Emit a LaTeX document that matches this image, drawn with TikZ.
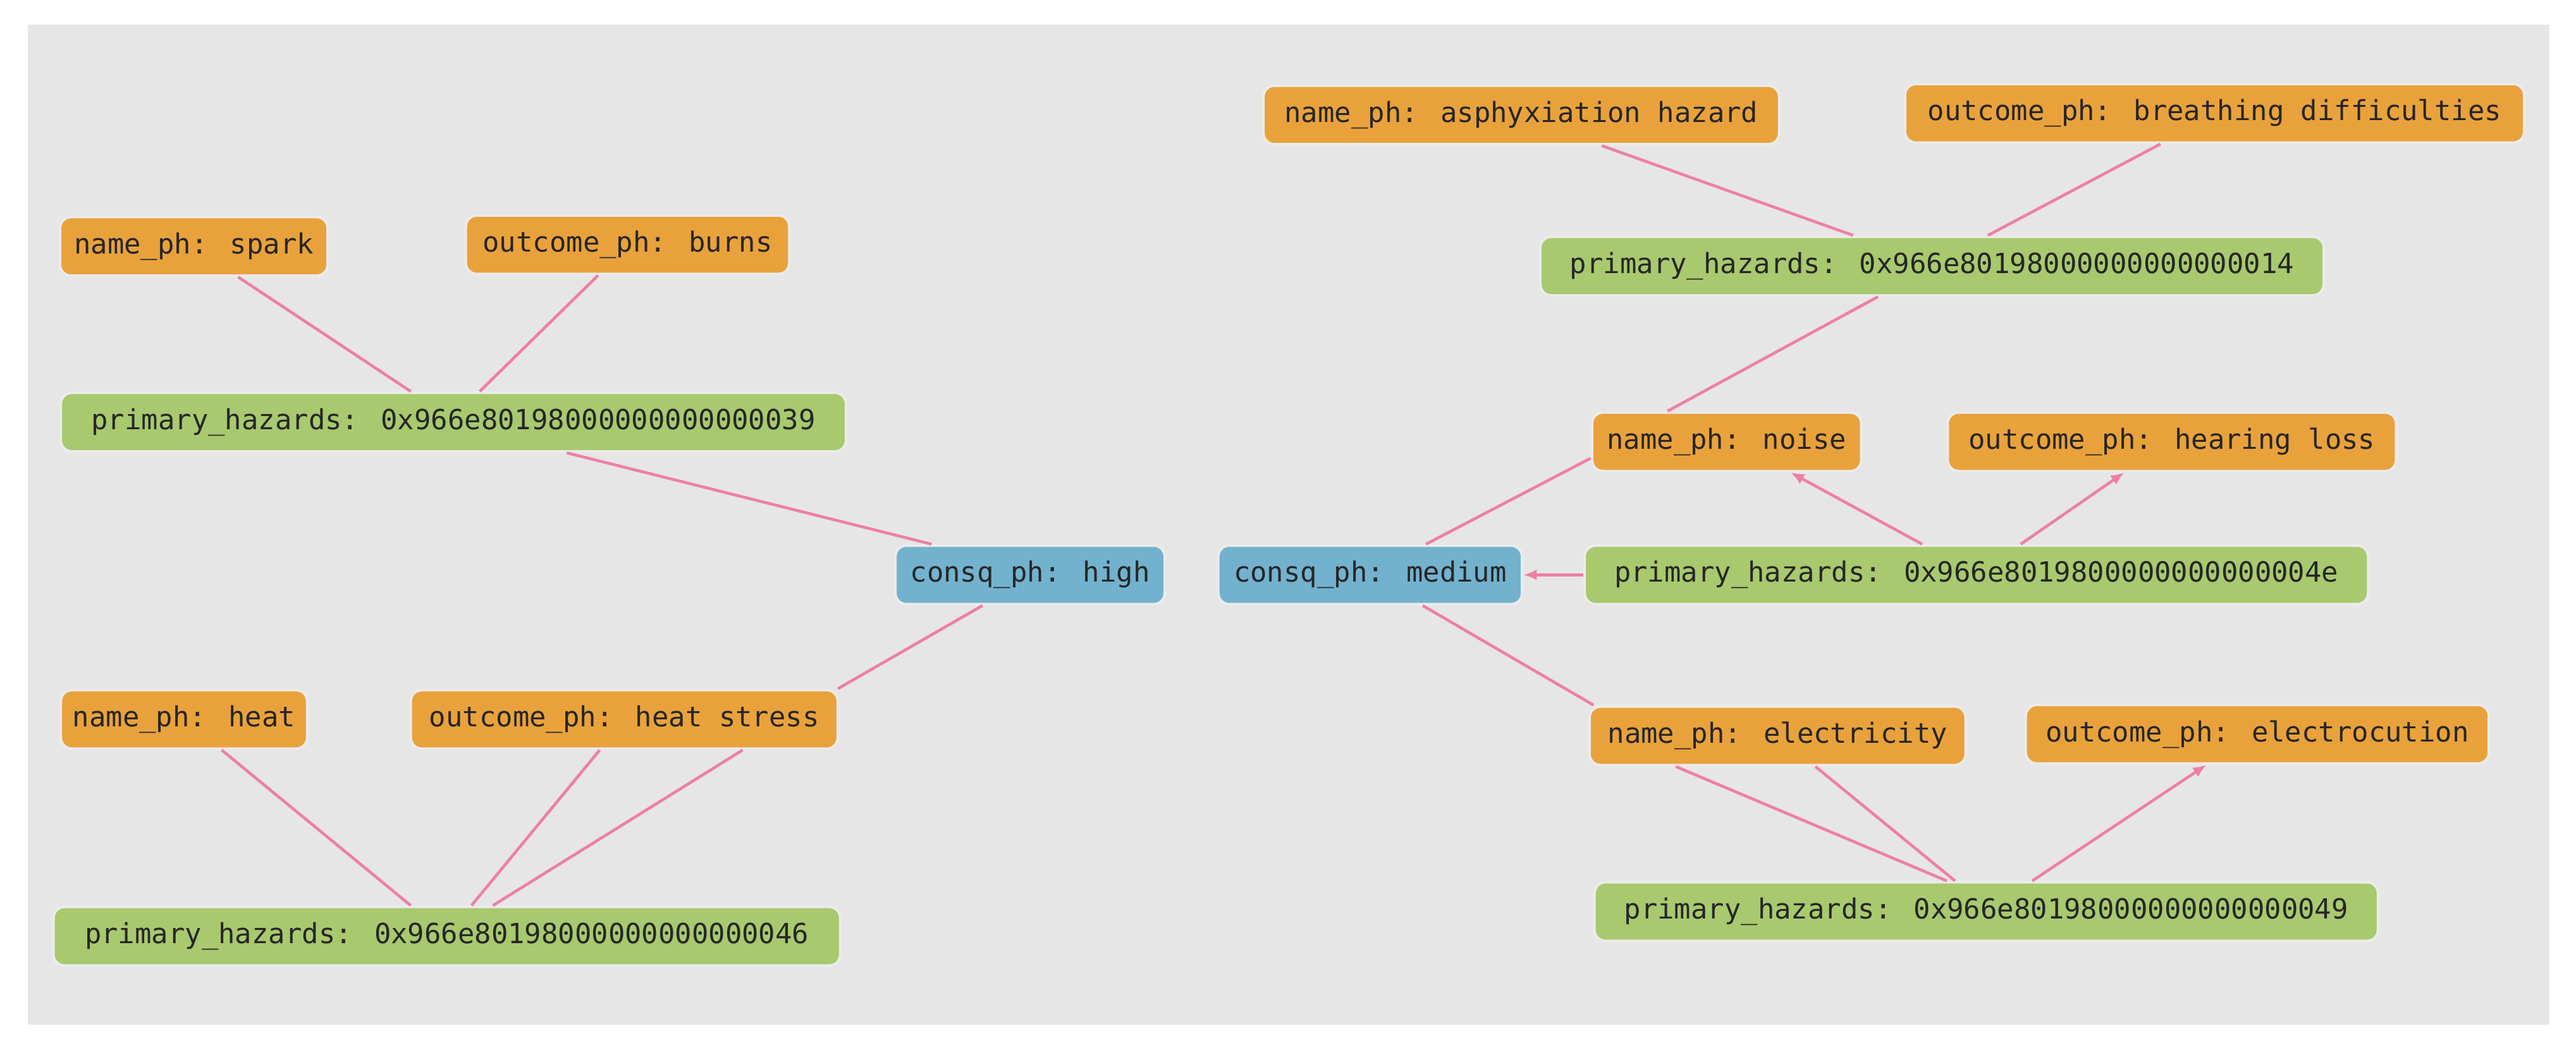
\documentclass[tikz,border=0pt]{standalone}
\usepackage{fontspec}
\newfontfamily\mono{DejaVu Sans Mono}
\usetikzlibrary{calc,arrows.meta}
\definecolor{bg}{HTML}{E6E6E6}
\definecolor{org}{HTML}{E9A23B}
\definecolor{grn}{HTML}{A8C96E}
\definecolor{blu}{HTML}{72B2CE}
\definecolor{pnk}{HTML}{EE7FA6}
\begin{document}
\begin{tikzpicture}[x=0.026cm,y=-0.026cm,
  box/.style={rounded corners=5pt,minimum height=0.93cm,inner xsep=3pt,font=\mono\fontsize{12.5}{14}\selectfont,text=black!85,draw=white!92!black,line width=1.2pt},
  o/.style={box,fill=org},g/.style={box,fill=grn},b/.style={box,fill=blu},
  e/.style={draw=pnk,line width=1.3pt},
  a/.style={e,-{Latex[length=6pt,width=5pt]}}]
\fill[white] (0,0) rectangle (1568,639);
\fill[bg] (17,15) rectangle (1552,624);
\node[o,minimum width=163*0.026cm] (sp) at (118,150) {name\_ph: spark};
\node[o,minimum width=197*0.026cm] (bu) at (382,149) {outcome\_ph: burns};
\node[g,minimum width=478*0.026cm] (p39) at (276,257) {primary\_hazards: 0x966e80198000000000000039};
\node[b,minimum width=164*0.026cm] (hi) at (627,350) {consq\_ph: high};
\node[o,minimum width=150*0.026cm] (he) at (112,438) {name\_ph: heat};
\node[o,minimum width=260*0.026cm] (hs) at (380,438) {outcome\_ph: heat stress};
\node[g,minimum width=479*0.026cm] (p46) at (272,570) {primary\_hazards: 0x966e80198000000000000046};
\node[b,minimum width=185*0.026cm] (me) at (834,350) {consq\_ph: medium};
\node[o,minimum width=314*0.026cm] (as) at (926,70) {name\_ph: asphyxiation hazard};
\node[o,minimum width=377*0.026cm] (br) at (1348,69) {outcome\_ph: breathing difficulties};
\node[g,minimum width=477*0.026cm] (p14) at (1176,162) {primary\_hazards: 0x966e80198000000000000014};
\node[o,minimum width=164*0.026cm] (no) at (1051,269) {name\_ph: noise};
\node[o,minimum width=273*0.026cm] (hl) at (1322,269) {outcome\_ph: hearing loss};
\node[g,minimum width=477*0.026cm] (p4e) at (1203,350) {primary\_hazards: 0x966e8019800000000000004e};
\node[o,minimum width=229*0.026cm] (el) at (1082,448) {name\_ph: electricity};
\node[o,minimum width=282*0.026cm] (ec) at (1374,447) {outcome\_ph: electrocution};
\node[g,minimum width=477*0.026cm] (p49) at (1209,555) {primary\_hazards: 0x966e80198000000000000049};
% left
\draw[e] ($(sp.south)+(27,0)$) -- ($(p39.north)+(-26,0)$);
\draw[e] ($(bu.south)+(-18,0)$) -- ($(p39.north)+(16,0)$);
\draw[e] ($(p39.south)+(69,0)$) -- ($(hi.north)+(-60,0)$);
\draw[e] ($(hi.south)+(-29,0)$) -- ($(hs.north)+(130,0)$);
\draw[e] ($(he.south)+(23,0)$) -- ($(p46.north)+(-22,0)$);
\draw[e] ($(hs.south)+(-15,0)$) -- ($(p46.north)+(15,0)$);
\draw[e] ($(hs.south)+(72,0)$) -- ($(p46.north)+(28,0)$);
% right
\draw[e] ($(as.south)+(49,0)$) -- ($(p14.north)+(-48,0)$);
\draw[e] ($(br.south)+(-33,0)$) -- ($(p14.north)+(34,0)$);
\draw[e] ($(p14.south)+(-33,0)$) -- ($(no.north)+(-36,0)$);
\draw[e] ($(no.west)+(0,10)$) -- ($(me.north)+(34,0)$);
\draw[a] ($(p4e.north)+(-33,0)$) -- ($(no.south)+(39,0)$);
\draw[a] ($(p4e.north)+(27,0)$) -- ($(hl.south)+(-29,0)$);
\draw[a] (p4e.west) -- (me.east);
\draw[e] ($(me.south)+(32,0)$) -- ($(el.north)+(-112,0)$);
\draw[e] ($(el.south)+(-62,0)$) -- ($(p49.north)+(-24,0)$);
\draw[e] ($(el.south)+(23,0)$) -- ($(p49.north)+(-19,0)$);
\draw[a] ($(p49.north)+(28,0)$) -- ($(ec.south)+(-31,0)$);
\end{tikzpicture}
\end{document}
